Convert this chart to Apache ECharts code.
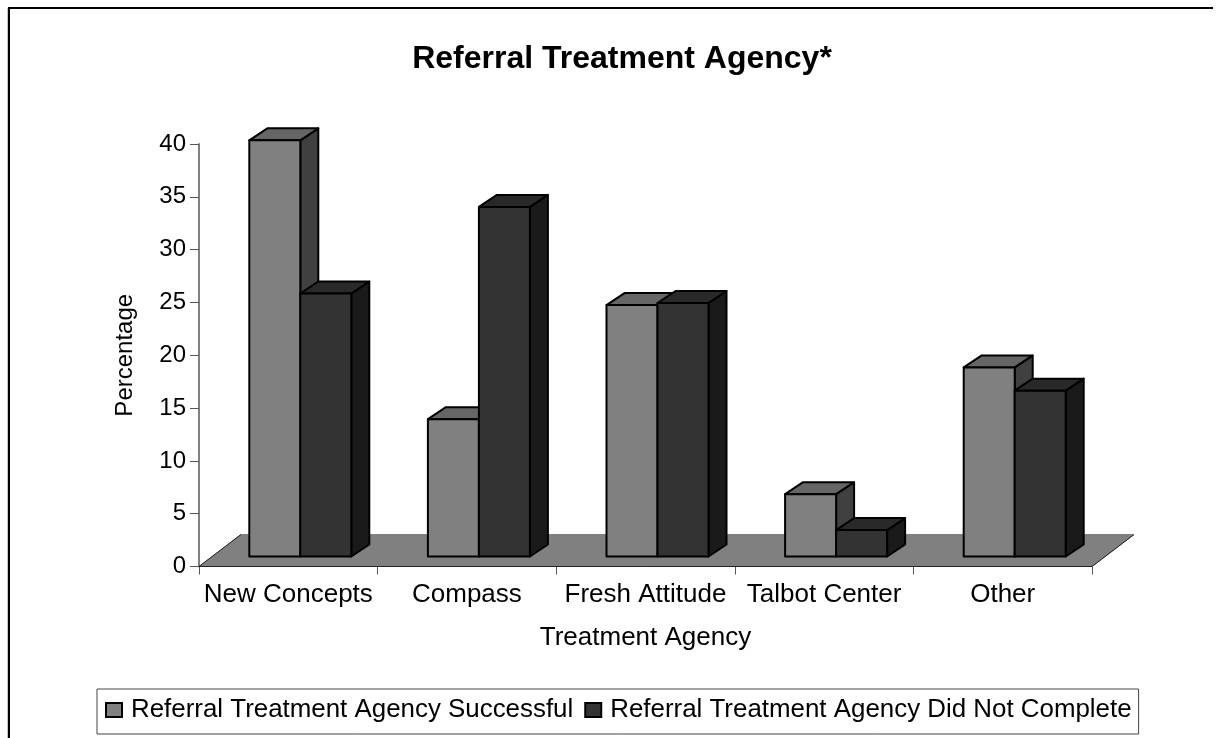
<!DOCTYPE html>
<html><head><meta charset="utf-8">
<style>html,body{margin:0;padding:0;background:#fff}#c{width:1218px;height:738px}</style>
<script src="https://cdn.jsdelivr.net/npm/echarts@6/dist/echarts.min.js"></script>
</head><body><div id="c"></div>
<script>
const categories = ['New Concepts','Compass','Fresh Attitude','Talbot Center','Other'];
const successful = [39.4,13.0,23.8,5.9,17.9];
const didNotComplete = [24.9,33.1,24.0,2.5,15.7];
const yTicks = {min:0,max:40,interval:5};
const seriesNames = ['Referral Treatment Agency Successful','Referral Treatment Agency Did Not Complete'];
const FONT = '"Liberation Sans", Arial, sans-serif';
const BAR_W = 51, SHIFT = 12, LIFT = 10, DX = 18, DY = 12;

function barRenderer(side, front, top, dark){
  return function(params, api){
    const i = api.value(0), v = api.value(1);
    const base = api.coord([i,0]), tip = api.coord([i,v]);
    const cx = base[0] + SHIFT;
    const x0 = side < 0 ? cx - BAR_W : cx, x1 = x0 + BAR_W;
    const y0 = base[1] - LIFT, y1 = tip[1] - LIFT;
    const st = c => ({fill:c, stroke:'#000', lineWidth:2, lineJoin:'round'});
    return {type:'group', children:[
      {type:'polygon', shape:{points:[[x1,y1],[x1+DX,y1-DY],[x1+DX,y0-DY],[x1,y0]]}, style:st(dark)},
      {type:'polygon', shape:{points:[[x0,y1],[x0+DX,y1-DY],[x1+DX,y1-DY],[x1,y1]]}, style:st(top)},
      {type:'rect', shape:{x:x0,y:y1,width:BAR_W,height:y0-y1}, style:st(front)}
    ]};
  };
}
function floorRenderer(params, api){
  const y = api.coord([0,0])[1], xa = params.coordSys.x, xb = xa + params.coordSys.width;
  const dx = 42, dy = 32;
  return {type:'group', children:[
    {type:'polygon', shape:{points:[[xa,y],[xa+dx,y-dy],[xb+dx,y-dy],[xb,y]]}, style:{fill:'#808080', stroke:'#808080', lineWidth:1}},
    {type:'polyline', shape:{points:[[xa+dx,y-dy],[xa,y],[xb,y],[xb+dx,y-dy]]}, style:{fill:null, stroke:'#222', lineWidth:1}}
  ]};
}
const chart = echarts.init(document.getElementById('c'), null, {renderer:'canvas'});
chart.setOption({
  animation:false,
  backgroundColor:'#fff',
  title:{text:'Referral Treatment Agency*', left:617, textAlign:'center', top:38,
    textStyle:{fontFamily:FONT,fontSize:32,fontWeight:'bold',color:'#000'}},
  grid:{left:199,right:126,top:144,bottom:171.5},
  xAxis:{type:'category',data:categories,
    name:'Treatment Agency',nameLocation:'middle',nameGap:58,
    nameTextStyle:{fontFamily:FONT,fontSize:26,color:'#000'},
    axisLine:{lineStyle:{color:'#808080',width:1}},
    axisTick:{show:true,length:8,alignWithLabel:false,lineStyle:{color:'#555',width:1}},
    axisLabel:{fontFamily:FONT,fontSize:26,color:'#000',margin:15,interval:0},
    splitLine:{show:false}},
  yAxis:{type:'value',min:yTicks.min,max:yTicks.max,interval:yTicks.interval,
    name:'Percentage',nameLocation:'middle',nameGap:62,nameRotate:90,
    nameTextStyle:{fontFamily:FONT,fontSize:24,color:'#000'},
    axisLine:{show:true,lineStyle:{color:'#808080',width:2}},
    axisTick:{show:true,length:9,lineStyle:{color:'#555',width:1}},
    axisLabel:{fontFamily:FONT,fontSize:24,color:'#000',margin:13},
    splitLine:{show:false}},
  legend:{left:97,top:689,orient:'horizontal',padding:[8,7,11,8],
    backgroundColor:'#fff',borderColor:'#444',borderWidth:1,
    itemWidth:16,itemHeight:14,itemGap:11,
    data:seriesNames.map(n=>({name:n,icon:'rect'})),
    itemStyle:{borderColor:'#000',borderWidth:2},
    textStyle:{fontFamily:FONT,fontSize:25.9,color:'#000',padding:[0,0,0,4]}},
  series:[
    {type:'custom',name:'floor',silent:true,z:1,data:[[0,0]],renderItem:floorRenderer,encode:{x:0,y:1}},
    {type:'custom',name:seriesNames[0],z:2,itemStyle:{color:'#808080'},
      data:successful.map((v,i)=>[i,v]),encode:{x:0,y:1},
      renderItem:barRenderer(-1,'#808080','#666666','#404040')},
    {type:'custom',name:seriesNames[1],z:3,itemStyle:{color:'#333333'},
      data:didNotComplete.map((v,i)=>[i,v]),encode:{x:0,y:1},
      renderItem:barRenderer(1,'#333333','#292929','#1a1a1a')}
  ],
  graphic:[
    {type:'line',shape:{x1:7.5,y1:8,x2:7.5,y2:738},style:{stroke:'#c4c4c4',lineWidth:1}},
    {type:'polyline',shape:{points:[[9,738],[9,8],[1213,8]]},style:{fill:null,stroke:'#000',lineWidth:2}}
  ]
});
</script></body></html>
